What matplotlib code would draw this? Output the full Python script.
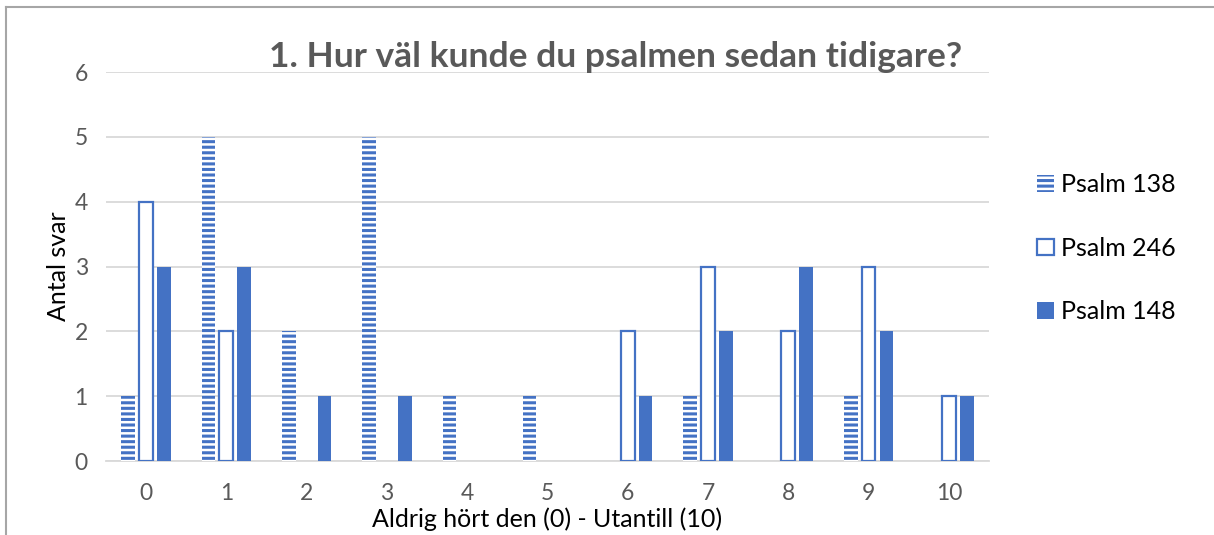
import numpy as np
import matplotlib.pyplot as plt

categories = [0, 1, 2, 3, 4, 5, 6, 7, 8, 9, 10]
psalm_138 = [1, 5, 2, 5, 1, 1, 0, 1, 0, 1, 0]
psalm_246 = [4, 2, 0, 0, 0, 0, 2, 3, 2, 3, 1]
psalm_148 = [3, 3, 1, 1, 0, 0, 1, 2, 3, 2, 1]

blue = '#4472C4'
plt.rcParams['font.family'] = ['Lato', 'DejaVu Sans']
plt.rcParams['hatch.linewidth'] = 2.2

fig = plt.figure(figsize=(12.14, 5.35), dpi=100)
ax = fig.add_axes([0.0872, 0.1383, 0.8147 - 0.0872, 0.8654 - 0.1383])

x = np.arange(len(categories))
w = 0.17
off = 0.222
ax.bar(x - off, psalm_138, w, facecolor='white', edgecolor=blue, linewidth=0,
       hatch='---', label='Psalm 138', zorder=3)
ax.bar(x, psalm_246, w, facecolor='white', edgecolor=blue,
       linewidth=[1.6 if v else 0 for v in psalm_246], label='Psalm 246', zorder=3)
ax.bar(x + off, psalm_148, w, facecolor=blue, edgecolor=blue, linewidth=0,
       label='Psalm 148', zorder=3)

ax.set_xlim(-0.5, len(categories) - 0.5)
ax.set_ylim(0, 6)
ax.set_yticks(range(7))
ax.set_xticks(x)
ax.set_xticklabels([str(c) for c in categories])
ax.grid(axis='y', color='#d9d9d9', linewidth=1.3, zorder=0)
ax.set_axisbelow(True)
for s in ['top', 'right', 'left']:
    ax.spines[s].set_visible(False)
ax.spines['bottom'].set_color('#d9d9d9')
ax.spines['bottom'].set_linewidth(1.3)
ax.tick_params(length=0, labelsize=16.5, labelcolor='#595959')
ax.tick_params(axis='x', pad=16)
ax.tick_params(axis='y', pad=13)

ax.set_xlabel('Aldrig hört den (0) - Utantill (10)', fontsize=18, labelpad=2)
ax.set_ylabel('Antal svar', fontsize=18, labelpad=3)

fig.text(0.507, 0.893, '1. Hur väl kunde du psalmen sedan tidigare?', ha='center',
         va='center', fontsize=25.5, fontweight='bold', color='#595959')

leg = fig.legend(loc='upper left', bbox_to_anchor=(0.836, 0.718), frameon=False,
                 fontsize=18, labelspacing=1.62, handlelength=0.65, handleheight=0.65,
                 handletextpad=0.3)

# frame around chart (top and left edges visible)
fig.add_artist(plt.Line2D([6 / 1214, 1.0], [1 - 7 / 535, 1 - 7 / 535], color='#a6a6a6',
                          linewidth=1.5, transform=fig.transFigure))
fig.add_artist(plt.Line2D([6 / 1214, 6 / 1214], [0, 1 - 7 / 535], color='#a6a6a6',
                          linewidth=1.5, transform=fig.transFigure))

fig.savefig('out.png', dpi=100)
